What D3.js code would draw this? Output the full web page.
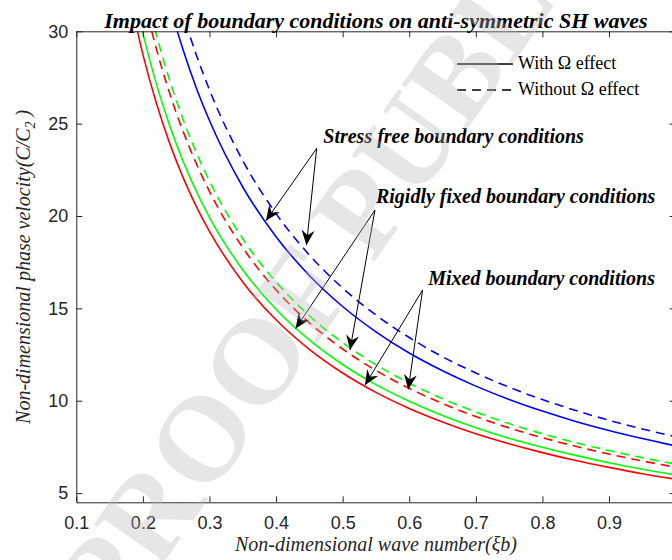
<!DOCTYPE html>
<html><head><meta charset="utf-8">
<script src="https://cdn.jsdelivr.net/npm/d3@7/dist/d3.min.js"></script>
<style>body{margin:0;background:#fff;} svg{display:block;}</style>
</head><body>
<svg id="chart" width="672" height="560"></svg>
<script>
// ---- data ----
const xi = [0.18,0.2,0.22,0.24,0.26,0.28,0.3,0.35,0.4,0.45,0.5,0.55,0.6,0.65,0.7,0.75,0.8,0.85,0.9,0.95,1.0];
const mixedWith      = [31.94,28.75,26.14,23.96,22.12,20.54,19.17,16.43,14.38,12.78,11.5,10.45,9.58,8.85,8.21,7.67,7.19,6.76,6.39,6.05,5.75];
const rigidWith      = [33.22,29.9,27.18,24.92,23.0,21.36,19.93,17.09,14.95,13.29,11.96,10.87,9.97,9.2,8.54,7.97,7.48,7.04,6.64,6.29,5.98];
const mixedWithout   = [35.56,32.0,29.09,26.67,24.62,22.86,21.33,18.29,16.0,14.22,12.8,11.64,10.67,9.85,9.14,8.53,8.0,7.53,7.11,6.74,6.4];
const rigidWithout   = [36.5,32.85,29.86,27.38,25.27,23.46,21.9,18.77,16.43,14.6,13.14,11.95,10.95,10.11,9.39,8.76,8.21,7.73,7.3,6.92,6.57];
const stressWith     = [41.94,37.75,34.32,31.46,29.04,26.96,25.17,21.57,18.88,16.78,15.1,13.73,12.58,11.62,10.79,10.07,9.44,8.88,8.39,7.95,7.55];
const stressWithout  = [44.72,40.25,36.59,33.54,30.96,28.75,26.83,23.0,20.13,17.89,16.1,14.64,13.42,12.38,11.5,10.73,10.06,9.47,8.94,8.47,8.05];

const seriesNames  = ["mixedWith","rigidWith","mixedWithout","rigidWithout","stressWith","stressWithout"];
const seriesValues = [mixedWith, rigidWith, mixedWithout, rigidWithout, stressWith, stressWithout];
const seriesColors = ["#ff0000","#00ff00","#ff0000","#00ff00","#0000ff","#0000ff"];
const seriesDashed = [false,false,true,true,false,true];

const xTicks = [0.1,0.2,0.3,0.4,0.5,0.6,0.7,0.8,0.9,1.0];
const xTickLabels = ["0.1","0.2","0.3","0.4","0.5","0.6","0.7","0.8","0.9","1"];
const yTicks = [5,10,15,20,25,30];
const yTickLabels = ["5","10","15","20","25","30"];

const titleText = "Impact of boundary conditions on anti-symmetric SH waves";
const xLabelText = "Non-dimensional wave number(ξb)";
const legendLabels = ["With Ω effect","Without Ω effect"];
const watermarkText = "PROOF PUBLISHED";

// annotations: label anchor, arrow junction, arrow tips (data coords)
const annTexts = ["Stress free boundary conditions","Rigidly fixed boundary conditions","Mixed boundary conditions"];
const annTextPos = [[0.4709,23.95],[0.550,20.68],[0.6285,16.26]];
const annJunction = [[0.461,23.66],[0.5485,20.32],[0.620,15.99]];
const annTips = [
  [[0.3848,19.74],[0.4456,18.42]],
  [[0.4294,13.91],[0.511,12.74]],
  [[0.5335,10.84],[0.5985,10.61]]
];

// ---- drawing ----
const svg = d3.select("#chart");
const L = 76.3, R = 675.6, T = 31.3, B = 502.3;
const x = d3.scaleLinear().domain([0.1,1.0]).range([L,R]);
const y = d3.scaleLinear().domain([4.5,30]).range([B,T]);
const axisColor = "#262626";

const defs = svg.append("defs");
defs.append("clipPath").attr("id","plotclip")
  .append("rect").attr("x",L).attr("y",T).attr("width",R-L).attr("height",B-T);

defs.append("marker")
  .attr("id","arrowhead").attr("markerUnits","userSpaceOnUse")
  .attr("viewBox","-16 -8 18 16").attr("markerWidth",18).attr("markerHeight",16)
  .attr("refX",0).attr("refY",0).attr("orient","auto")
  .append("path").attr("d","M0,0 L-15,-6.5 L-10,0 L-15,6.5 Z").attr("fill","#000");

// curves
const line = d3.line().x((d,i)=>x(xi[i])).y(d=>y(d)).curve(d3.curveMonotoneX);
const gCurves = svg.append("g").attr("clip-path","url(#plotclip)");
seriesValues.forEach((vals,k)=>{
  gCurves.append("path").datum(vals)
    .attr("d",line).attr("fill","none")
    .attr("stroke",seriesColors[k]).attr("stroke-width",1.6)
    .attr("stroke-dasharray",seriesDashed[k]?"9,6":null);
});

// axes
const fontSans = "'Liberation Sans', Arial, Helvetica, sans-serif";
const fontSerif = "'Liberation Serif', 'Times New Roman', Times, serif";
function styleAxis(g){
  g.select(".domain").attr("stroke",axisColor).attr("stroke-width",1);
  g.selectAll(".tick line").attr("stroke",axisColor).attr("stroke-width",1);
  g.selectAll(".tick text").attr("fill",axisColor).style("font-family",fontSans).style("font-size","18px");
}
svg.append("g").attr("transform",`translate(0,${B})`)
  .call(d3.axisBottom(x).tickValues(xTicks).tickFormat((d,i)=>xTickLabels[i]).tickSizeInner(-6).tickSizeOuter(0).tickPadding(14))
  .call(styleAxis);
svg.append("g").attr("transform",`translate(0,${T})`)
  .call(d3.axisTop(x).tickValues(xTicks).tickFormat("").tickSizeInner(-6).tickSizeOuter(0))
  .call(styleAxis);
svg.append("g").attr("transform",`translate(${L},0)`)
  .call(d3.axisLeft(y).tickValues(yTicks).tickFormat((d,i)=>yTickLabels[i]).tickSizeInner(-6).tickSizeOuter(0).tickPadding(8))
  .call(styleAxis);
svg.append("g").attr("transform",`translate(${R},0)`)
  .call(d3.axisRight(y).tickValues(yTicks).tickFormat("").tickSizeInner(-6).tickSizeOuter(0))
  .call(styleAxis);

// title
svg.append("text").attr("x",(L+R)/2).attr("y",28).attr("text-anchor","middle")
  .style("font-family",fontSerif).style("font-weight","bold").style("font-style","italic")
  .style("font-size","22px").attr("fill","#000").text(titleText);

// x label
svg.append("text").attr("x",(L+R)/2).attr("y",551).attr("text-anchor","middle")
  .style("font-family",fontSerif).style("font-style","italic").style("font-size","20px")
  .attr("fill","#262626").text(xLabelText);

// y label with subscript
const yl = svg.append("text").attr("transform",`translate(30,${(T+B)/2}) rotate(-90)`)
  .attr("text-anchor","middle")
  .style("font-family",fontSerif).style("font-style","italic").style("font-size","20px")
  .attr("fill","#262626");
yl.append("tspan").text("Non-dimensional phase velocity(C/C");
yl.append("tspan").attr("dy",5).style("font-size","14px").text("2");
yl.append("tspan").attr("dy",-5).text(" )");

// legend
const legX1 = 457, legX2 = 513, legTextX = 518;
const legY = [64, 90];
legendLabels.forEach((lab,i)=>{
  svg.append("line").attr("x1",legX1).attr("x2",legX2).attr("y1",legY[i]).attr("y2",legY[i])
    .attr("stroke","#000").attr("stroke-width",1.6).attr("stroke-dasharray",i===1?"9,6":null);
  svg.append("text").attr("x",legTextX).attr("y",legY[i]+5)
    .style("font-family",fontSerif).style("font-size","18px").attr("fill","#000").text(lab);
});

// annotations
annTexts.forEach((t,i)=>{
  svg.append("text").attr("x",x(annTextPos[i][0])).attr("y",y(annTextPos[i][1]))
    .style("font-family",fontSerif).style("font-weight","bold").style("font-style","italic")
    .style("font-size","20px").attr("fill","#000").text(t);
  annTips[i].forEach(tp=>{
    svg.append("line")
      .attr("x1",x(annJunction[i][0])).attr("y1",y(annJunction[i][1]))
      .attr("x2",x(tp[0])).attr("y2",y(tp[1]))
      .attr("stroke","#000").attr("stroke-width",1)
      .attr("marker-end","url(#arrowhead)");
  });
});

// watermark
svg.append("text").attr("transform","translate(115,632) rotate(-55)")
  .style("font-family",fontSerif).style("font-weight","bold").style("font-size","121px")
  .attr("fill","#b8b8b8").attr("opacity",0.35)
  .text(watermarkText);
</script>
</body></html>
